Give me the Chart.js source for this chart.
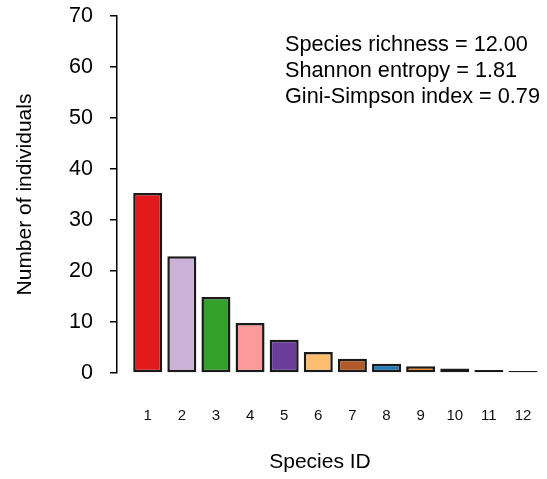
<!DOCTYPE html>
<html>
<head>
<meta charset="utf-8">
<script src="https://cdn.jsdelivr.net/npm/chart.js@4.4.0/dist/chart.umd.min.js"></script>
<style>
  html, body { margin: 0; padding: 0; background: #fff; }
  #wrap { width: 547px; height: 479px; position: relative; }
</style>
</head>
<body>
<div id="wrap"><canvas id="myChart"></canvas></div>
<script>
// species abundances
const speciesIds = [1, 2, 3, 4, 5, 6, 7, 8, 9, 10, 11, 12];
const abundance = [35.3, 22.9, 14.9, 9.8, 6.5, 4.1, 2.8, 1.8, 1.3, 0.9, 0.6, 0.4];
const barColours = ['#E31A1C', '#CAB2D6', '#33A02C', '#FB9A99', '#6A3D9A', '#FDBF6F',
                    '#B15928', '#1F78B4', '#FF7F00', '#FFFF99', '#A6CEE3', '#B2DF8A'];
const statLines = ['Species richness = 12.00', 'Shannon entropy = 1.81', 'Gini-Simpson index = 0.79'];

const FONT = '"Liberation Sans", Arial, sans-serif';

// diversity stats in the top right corner
const statsText = {
    id: 'statsText',
    afterDraw(chart) {
        const ctx = chart.ctx;
        const area = chart.chartArea;
        ctx.save();
        ctx.font = '21.7px ' + FONT;
        ctx.fillStyle = '#000';
        ctx.textAlign = 'left';
        ctx.textBaseline = 'alphabetic';
        statLines.forEach((line, i) => {
            ctx.fillText(line, area.left + 168, area.top + 35 + i * 26);
        });
        ctx.restore();
    }
};

const ctx = document.getElementById('myChart').getContext('2d');
const myChart = new Chart(ctx, {
    type: 'bar',
    data: {
        datasets: [{
            data: speciesIds.map((id, i) => ({x: id, y: abundance[i]})),
            backgroundColor: barColours,
            borderColor: '#1a1a1a',
            borderWidth: 2.5,
            borderSkipped: false,
            categoryPercentage: 1,
            barPercentage: 0.85,
            clip: false
        }]
    },
    options: {
        responsive: true,
        maintainAspectRatio: false,
        animation: false,
        layout: {
            padding: {top: 16, right: 24, left: 0, bottom: 0}
        },
        plugins: {
            legend: {display: false},
            tooltip: {enabled: false}
        },
        scales: {
            x: {
                type: 'linear',
                offset: false,
                min: 0.1,
                max: 12.0,
                afterBuildTicks: scale => {
                    scale.ticks = speciesIds.map(v => ({value: v}));
                },
                afterFit: scale => {
                    scale.height = 106;
                    scale.paddingLeft = 0;
                    scale.paddingRight = 0;
                },
                grid: {display: false, drawTicks: false, tickLength: 0, offset: false},
                border: {display: false},
                ticks: {
                    autoSkip: false,
                    maxRotation: 0,
                    padding: 34,
                    color: '#111',
                    font: {family: FONT, size: 15},
                    callback: v => String(v)
                },
                title: {
                    display: true,
                    text: 'Species ID',
                    color: '#000',
                    font: {family: FONT, size: 21},
                    padding: {top: 24, bottom: 4}
                }
            },
            y: {
                min: 0,
                max: 70,
                afterFit: scale => {
                    scale.width = 117;
                    scale.paddingTop = 0;
                    scale.paddingBottom = 0;
                },
                ticks: {
                    stepSize: 10,
                    padding: 17,
                    color: '#000',
                    font: {family: FONT, size: 21.5}
                },
                grid: {
                    drawOnChartArea: false,
                    drawTicks: true,
                    tickLength: 7,
                    color: '#000',
                    lineWidth: 1.5
                },
                border: {display: true, color: '#000', width: 1.5},
                title: {
                    display: true,
                    text: 'Number of individuals',
                    color: '#000',
                    font: {family: FONT, size: 21},
                    padding: {top: 12.4, bottom: 32}
                }
            }
        }
    },
    plugins: [statsText]
});
</script>
</body>
</html>
